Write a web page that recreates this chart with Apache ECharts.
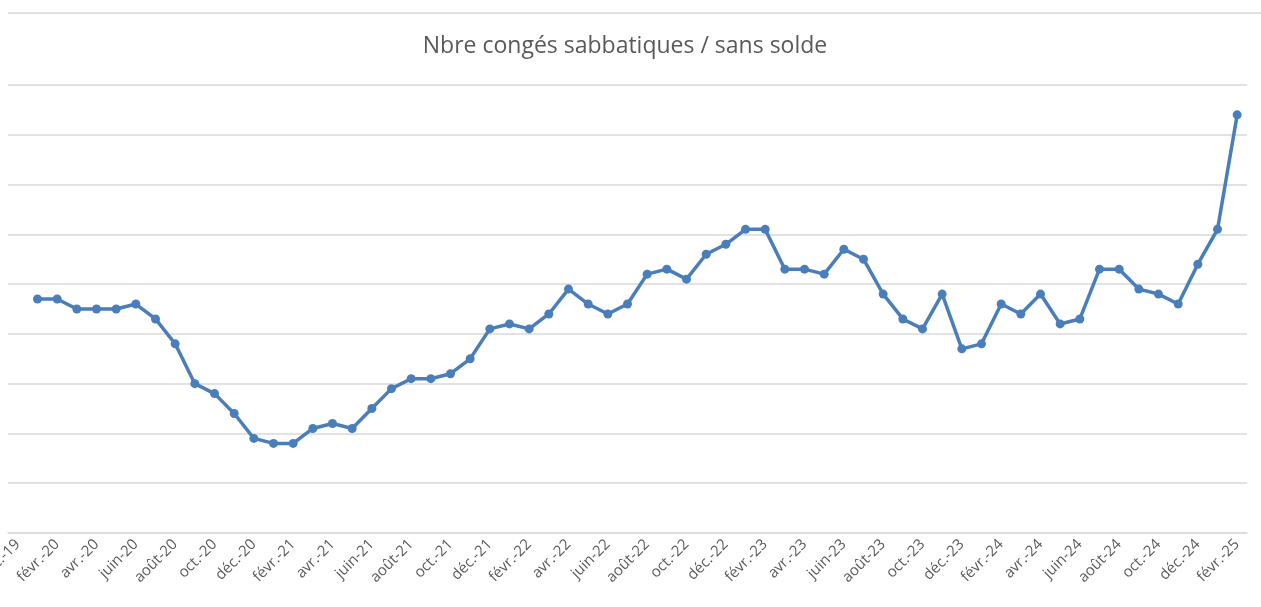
<!DOCTYPE html>
<html>
<head>
<meta charset="utf-8">
<script src="https://cdn.jsdelivr.net/npm/echarts@6/dist/echarts.min.js"></script>
<style>
  html, body { margin: 0; padding: 0; background: #fff; }
  #main { width: 1261px; height: 607px; }
</style>
</head>
<body>
<div id="main"></div>
<script>
// mois (axe des x) - déc.-19 n'a pas de valeur
var mois = [
  'déc.-19',
  'janv.-20', 'févr.-20', 'mars-20', 'avr.-20', 'mai-20', 'juin-20', 'juil.-20', 'août-20', 'sept.-20', 'oct.-20', 'nov.-20', 'déc.-20',
  'janv.-21', 'févr.-21', 'mars-21', 'avr.-21', 'mai-21', 'juin-21', 'juil.-21', 'août-21', 'sept.-21', 'oct.-21', 'nov.-21', 'déc.-21',
  'janv.-22', 'févr.-22', 'mars-22', 'avr.-22', 'mai-22', 'juin-22', 'juil.-22', 'août-22', 'sept.-22', 'oct.-22', 'nov.-22', 'déc.-22',
  'janv.-23', 'févr.-23', 'mars-23', 'avr.-23', 'mai-23', 'juin-23', 'juil.-23', 'août-23', 'sept.-23', 'oct.-23', 'nov.-23', 'déc.-23',
  'janv.-24', 'févr.-24', 'mars-24', 'avr.-24', 'mai-24', 'juin-24', 'juil.-24', 'août-24', 'sept.-24', 'oct.-24', 'nov.-24', 'déc.-24',
  'janv.-25', 'févr.-25'
]

// nombre de congés
var conges = [
  null,
  47, 47, 45, 45, 45, 46, 43, 38, 30, 28, 24, 19,
  18, 18, 21, 22, 21, 25, 29, 31, 31, 32, 35, 41,
  42, 41, 44, 49, 46, 44, 46, 52, 53, 51, 56, 58,
  61, 61, 53, 53, 52, 57, 55, 48, 43, 41, 48, 37,
  38, 46, 44, 48, 42, 43, 53, 53, 49, 48, 46, 54,
  61, 84
]

var titre = 'Nbre congés sabbatiques / sans solde'

var myChart = echarts.init(document.getElementById('main'))

var option = {
  animation: false,
  backgroundColor: '#ffffff',
  title: {
    text: titre,
    left: 620,
    textAlign: 'center',
    top: 30,
    textStyle: {
      fontFamily: 'Open Sans',
      fontSize: 23,
      fontWeight: 'normal',
      color: '#595959'
    }
  },
  // trait gris en haut (bord du cadre)
  graphic: [{
    type: 'line',
    shape: { x1: 8, y1: 13, x2: 1261, y2: 13 },
    style: { stroke: '#d9d9d9', lineWidth: 1.5 }
  }],
  grid: {
    left: 8,
    right: 14,
    top: 85,
    bottom: 74,
    outerBoundsMode: 'none',
    containLabel: false
  },
  xAxis: {
    type: 'category',
    data: mois,
    boundaryGap: true,
    axisLine: { lineStyle: { color: '#d9d9d9', width: 1.5 } },
    axisTick: { interval: 1, length: 6, lineStyle: { color: '#d9d9d9', width: 1.5 } },
    axisLabel: {
      interval: 1,
      rotate: 45,
      margin: 9,
      hideOverlap: false,
      fontFamily: 'Open Sans',
      fontSize: 15,
      color: '#595959'
    }
  },
  yAxis: {
    type: 'value',
    min: 0,
    max: 90,
    interval: 10,
    axisLabel: { show: false },
    axisLine: { show: false },
    axisTick: { show: false },
    splitLine: { lineStyle: { color: '#d9d9d9', width: 1.5 } }
  },
  series: [{
    name: titre,
    type: 'line',
    data: conges,
    symbol: 'circle',
    symbolSize: 9,
    showSymbol: true,
    lineStyle: { color: '#4a7ebb', width: 3.5 },
    itemStyle: { color: '#4a7ebb' }
  }]
}

myChart.setOption(option)
</script>
</body>
</html>
